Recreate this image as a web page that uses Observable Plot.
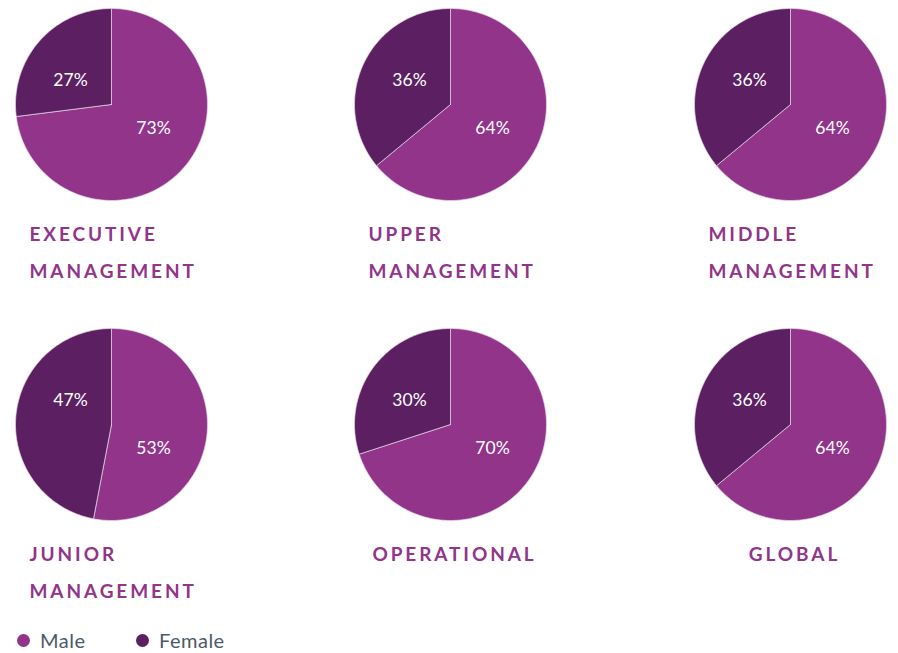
<!DOCTYPE html>
<html>
<head>
<meta charset="utf-8">
<script src="https://cdn.jsdelivr.net/npm/d3@7"></script>
<script src="https://cdn.jsdelivr.net/npm/@observablehq/plot@0.6"></script>
<style>
  html, body { margin: 0; padding: 0; background: #fff; }
  #chart svg { display: block; }
  .legend { height: 33px; position: relative; font-family: Lato, "Noto Sans", sans-serif; font-size: 20px; letter-spacing: 0.5px; color: #4b5968; }
  .legend .item { position: absolute; top: 8px; display: flex; align-items: center; }
  .legend .sw { width: 13px; height: 13px; border-radius: 50%; margin-right: 10px; }
</style>
</head>
<body>
<div id="chart"></div>
<div class="legend" id="legend"></div>
<script>
// ---- data ----
const categories = ["EXECUTIVE\nMANAGEMENT", "UPPER\nMANAGEMENT", "MIDDLE\nMANAGEMENT", "JUNIOR\nMANAGEMENT", "OPERATIONAL", "GLOBAL"];
const male = [73, 64, 64, 53, 70, 64];
const female = [27, 36, 36, 47, 30, 36];
const series = ["Male", "Female"];
const colors = ["#91348a", "#5c2062"];

// ---- layout ----
const W = 898, H = 620;
const colX = [111, 450, 790];
const rowY = [104, 424];
const R = 96;

const pies = categories.map((c, i) => ({
  category: c, male: male[i], female: female[i],
  cx: colX[i % 3], cy: rowY[Math.floor(i / 3)]
}));

// wedge polygons from the values
const pts = [];
pies.forEach((p, i) => {
  const total = p.male + p.female;
  const parts = [["Male", 0, p.male / total], ["Female", p.male / total, 1]];
  parts.forEach(([sex, a0, a1]) => {
    const id = i + "-" + sex;
    pts.push({id, sex, x: p.cx, y: p.cy});
    const n = Math.max(2, Math.ceil((a1 - a0) * 240));
    for (let k = 0; k <= n; k++) {
      const a = 2 * Math.PI * (a0 + (a1 - a0) * k / n);
      pts.push({id, sex, x: p.cx + R * Math.sin(a), y: p.cy - R * Math.cos(a)});
    }
    pts.push({id, sex, x: p.cx, y: p.cy});
  });
});

const labels = [];
pies.forEach(p => {
  labels.push({x: p.cx - 41, y: p.cy - 24, text: p.female + "%"});
  labels.push({x: p.cx + 42, y: p.cy + 24, text: p.male + "%"});
});

const titleLines = [];
pies.forEach(p => {
  const lines = p.category.split("\n");
  lines.forEach((l, j) => {
    titleLines.push({
      text: l,
      x: lines.length > 1 ? p.cx - 82 : p.cx + 4,
      y: p.cy + 130 + j * 37,
      anchor: lines.length > 1 ? "start" : "middle"
    });
  });
});

const titleStyle = {x: "x", y: "y", text: "text", fill: "#91348a", fontSize: 19, fontWeight: "bold", fontFamily: "Lato, 'Noto Sans', sans-serif"};

const chart = Plot.plot({
  width: W, height: H,
  margin: 0,
  x: {domain: [0, W], range: [0, W], axis: null},
  y: {domain: [0, H], range: [0, H], axis: null},
  color: {domain: series, range: colors},
  marks: [
    Plot.line(pts, {x: "x", y: "y", z: "id", fill: "sex", stroke: "#e8d8ea", strokeWidth: 0.7, curve: "linear"}),
    Plot.text(labels, {x: "x", y: "y", text: "text", fill: "white", fontSize: 17.5, fontFamily: "Lato, 'Noto Sans', sans-serif"}),
    Plot.text(titleLines.filter(d => d.anchor === "start"), {...titleStyle, textAnchor: "start"}),
    Plot.text(titleLines.filter(d => d.anchor === "middle"), {...titleStyle, textAnchor: "middle"})
  ]
});
d3.select(chart).selectAll('g[fill="#91348a"] text').style("letter-spacing", "2.9px");
document.getElementById("chart").appendChild(chart);

// legend
const legend = document.getElementById("legend");
const legendX = [17, 136];
series.forEach((s, i) => {
  const it = document.createElement("div");
  it.className = "item";
  it.style.left = legendX[i] + "px";
  it.innerHTML = `<span class="sw" style="background:${colors[i]}"></span><span>${s}</span>`;
  legend.appendChild(it);
});
</script>
</body>
</html>
